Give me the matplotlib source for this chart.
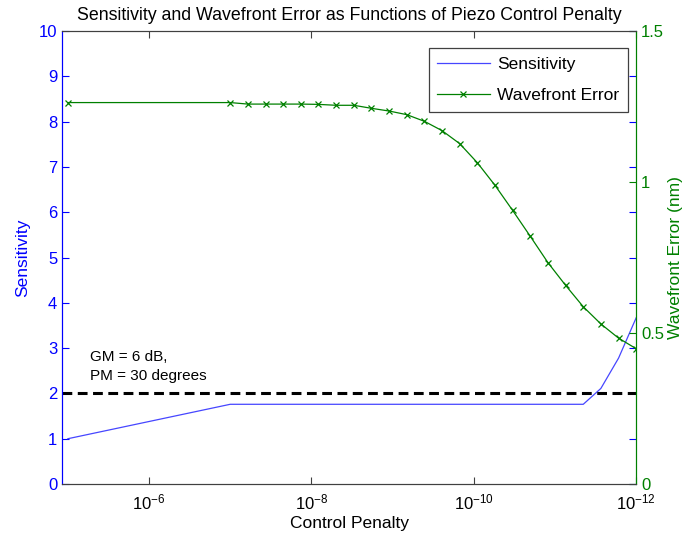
import numpy as np
import matplotlib
matplotlib.use("Agg")
import matplotlib.pyplot as plt

plt.rcParams["font.family"] = ["Liberation Sans", "DejaVu Sans"]
plt.rcParams["mathtext.fontset"] = "custom"
plt.rcParams["mathtext.rm"] = "Liberation Sans"
plt.rcParams["mathtext.it"] = "Liberation Sans:italic"

# control penalty: first point, then 24 log-spaced points from 1e-7 to 1e-12
penalty_exp = [5.0, 7.0, 7.217, 7.435, 7.652, 7.870, 8.087, 8.304, 8.522, 8.739,
               8.957, 9.174, 9.391, 9.609, 9.826, 10.043, 10.261, 10.478, 10.696,
               10.913, 11.130, 11.348, 11.565, 11.783, 12.0]
sensitivity = [1.0, 1.76, 1.76, 1.76, 1.76, 1.76, 1.76, 1.76, 1.76, 1.76,
               1.76, 1.76, 1.76, 1.76, 1.76, 1.76, 1.76, 1.76, 1.76,
               1.76, 1.76, 1.76, 2.11, 2.78, 3.67]
wavefront = [1.263, 1.263, 1.258, 1.258, 1.258, 1.258, 1.257, 1.254, 1.254, 1.244,
             1.235, 1.223, 1.201, 1.170, 1.127, 1.064, 0.989, 0.906, 0.820,
             0.733, 0.658, 0.587, 0.530, 0.483, 0.448]
gm_limit = 2.0

penalty = 10.0 ** (-np.array(penalty_exp))

blue = "#0000ff"
green = "#008000"
axis_gray = "#404040"

fig = plt.figure(figsize=(6.86, 5.39), dpi=100)
ax = fig.add_axes([0.0904, 0.102, 0.837, 0.8405])
ax2 = ax.twinx()

l1, = ax.plot(penalty, sensitivity, color="#4646ff", lw=0.9, label="Sensitivity")
ax.axhline(gm_limit, color="black", lw=2.2, ls=(0, (3.2, 1.8)))
ax.text(5.3e-6, 2.22, "GM = 6 dB,\nPM = 30 degrees", fontsize=11,
        ha="left", va="bottom", linespacing=1.45)
l2, = ax2.plot(penalty, wavefront, color=green, lw=0.9, marker="x", ms=4.5,
               mew=0.9, label="Wavefront Error")

ax.set_xscale("log")
ax.set_xlim(1.18e-5, 1e-12)
ax.set_xticks([1e-6, 1e-8, 1e-10, 1e-12])
ax.xaxis.set_minor_locator(matplotlib.ticker.NullLocator())
ax.set_ylim(0, 10)
ax.set_yticks(range(0, 11))
ax2.set_ylim(0, 1.5)
ax2.set_yticks([0, 0.5, 1, 1.5])
ax2.set_yticklabels(["0", "0.5", "1", "1.5"])

ax.tick_params(axis="x", which="both", direction="in", top=True, length=5,
               color=axis_gray, labelsize=12, pad=6)
ax.tick_params(axis="y", direction="in", right=True, length=5, color=blue,
               labelcolor=blue, labelsize=12)
ax2.tick_params(axis="y", direction="in", length=5, color=green,
                labelcolor=green, labelsize=12)

for a in (ax, ax2):
    a.spines["top"].set_color(axis_gray)
    a.spines["bottom"].set_color(axis_gray)
    a.spines["left"].set_color(blue)
    a.spines["right"].set_color(green)

ax.set_xlabel("Control Penalty", fontsize=12.5, labelpad=3)
ax.set_ylabel("Sensitivity", fontsize=12.5, color=blue, labelpad=6)
ax2.set_ylabel("Wavefront Error (nm)", fontsize=12.5, color=green, labelpad=3)
ax.set_title("Sensitivity and Wavefront Error as Functions of Piezo Control Penalty",
             fontsize=12.8, pad=8)

leg = ax2.legend([l1, l2], ["Sensitivity", "Wavefront Error"], loc="upper right",
                 bbox_to_anchor=(0.986, 0.9625), borderaxespad=0, fontsize=12.5,
                 fancybox=False, edgecolor=axis_gray, framealpha=1,
                 handlelength=3.0, handletextpad=0.45, borderpad=0.5,
                 labelspacing=0.95)
leg.get_frame().set_linewidth(0.9)

fig.savefig("out.png", dpi=100)
